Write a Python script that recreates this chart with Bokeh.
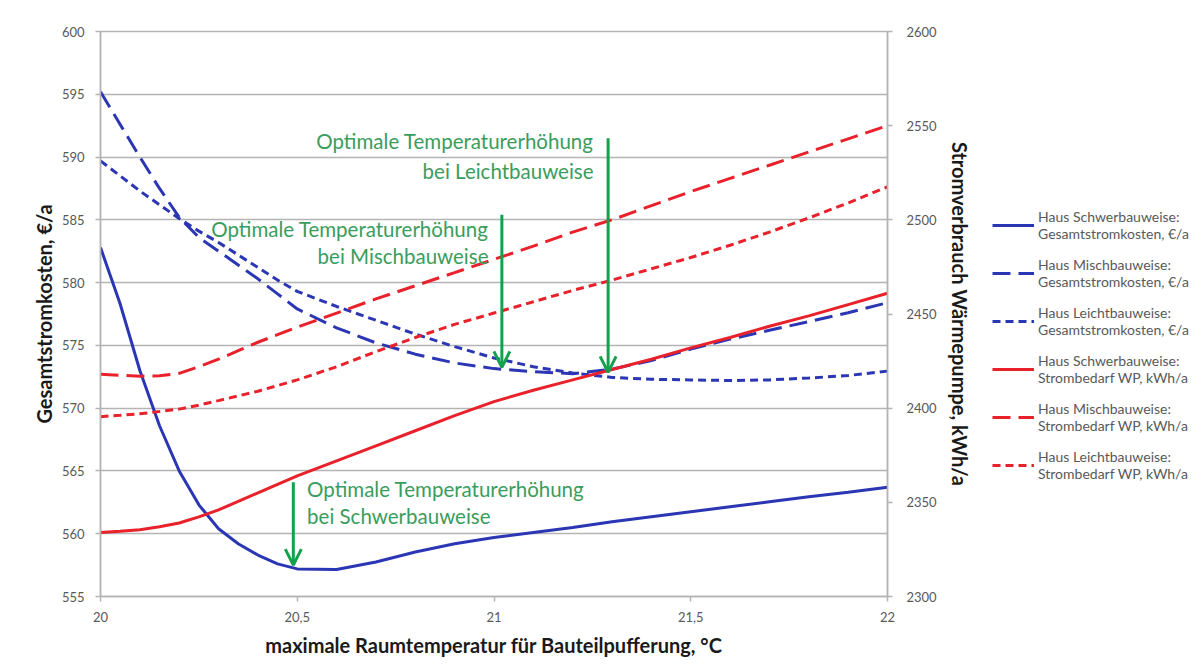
from bokeh.plotting import figure
from bokeh.layouts import row
from bokeh.models import (Range1d, LinearAxis, FixedTicker, Legend, LegendItem,
                          Arrow, OpenHead, Label)
from bokeh.embed import file_html
from bokeh.resources import INLINE

# ---------------- data ----------------
x_temp = [20.0, 20.05, 20.1, 20.15, 20.2, 20.25, 20.3, 20.35, 20.4, 20.45, 20.5,
          20.6, 20.7, 20.8, 20.9, 21.0, 21.1, 21.2, 21.3, 21.4, 21.5, 21.6, 21.7,
          21.8, 21.9, 22.0]

kosten_schwer = [582.8, 578.3, 573.0, 568.6, 565.0, 562.3, 560.4, 559.2, 558.3, 557.6, 557.2,
                 557.15, 557.75, 558.55, 559.2, 559.7,
                 560.1, 560.5, 560.95, 561.35, 561.75, 562.15, 562.55, 562.95, 563.3, 563.7]
kosten_misch = [595.2, 592.6, 590.0, 587.5, 585.2, 583.6, 582.5, 581.4, 580.3, 579.1, 577.9,
                576.4, 575.2, 574.3, 573.6, 573.15,
                572.9, 572.75, 573.1, 573.8, 574.7, 575.5, 576.2, 576.9, 577.6, 578.4]
kosten_leicht = [589.7, 588.5, 587.3, 586.2, 585.1, 584.1, 583.2, 582.2, 581.2, 580.2, 579.3,
                 578.1, 577.0, 575.9, 574.9, 574.0,
                 573.3, 572.8, 572.45, 572.3, 572.25, 572.2, 572.25, 572.4, 572.6, 572.95]

strom_schwer = [2334, 2334.6, 2335.5, 2337, 2339, 2342.3, 2346, 2350.5, 2355, 2359.5, 2364,
                2372, 2380, 2388, 2396, 2403.5,
                2409.5, 2415, 2420.5, 2426, 2432, 2437.5, 2443.5, 2449, 2455, 2461]
strom_misch = [2418, 2417.5, 2417, 2417.2, 2418.5, 2422, 2426, 2430.5, 2435, 2439, 2443,
               2450.5, 2458, 2465, 2472, 2479,
               2486, 2493.5, 2500, 2507.5, 2515, 2522, 2529, 2536, 2543, 2550]
strom_leicht = [2395.5, 2396.2, 2397, 2398.2, 2399.5, 2401.6, 2404, 2406.5, 2409, 2412, 2415,
                2422, 2430, 2437.5, 2444.5, 2450.5,
                2456.5, 2462.5, 2468, 2474, 2480, 2486.5, 2493.5, 2501, 2509, 2517.5]

x_ticks = [20, 20.5, 21, 21.5, 22]
x_tick_labels = ["20", "20,5", "21", "21,5", "22"]
left_ticks = [555, 560, 565, 570, 575, 580, 585, 590, 595, 600]
right_ticks = [2300, 2350, 2400, 2450, 2500, 2550, 2600]

# optimum markers (temperature, arrow start, arrow tip) in cost units
opt_temp = [20.49, 21.02, 21.29]
opt_top = [564.1, 585.4, 591.5]
opt_tip = [557.5, 573.25, 572.85]

legend_labels = [
    "Haus Schwerbauweise:\nGesamtstromkosten, €/a",
    "Haus Mischbauweise:\nGesamtstromkosten, €/a",
    "Haus Leichtbauweise:\nGesamtstromkosten, €/a",
    "Haus Schwerbauweise:\nStrombedarf WP, kWh/a",
    "Haus Mischbauweise:\nStrombedarf WP, kWh/a",
    "Haus Leichtbauweise:\nStrombedarf WP, kWh/a",
]

# ---------------- style ----------------
FONT = "Lato"
BLUE = "#2b36b4"
RED = "#e8212b"
GREEN = "#14a04c"
GREEN_TXT = "#3a9d5d"
GRID = "#b4b4b4"
TICK_TXT = "#595959"
series_styles = [(BLUE, None, None), (BLUE, "18 8", None), (BLUE, "8 5", None),
                 (RED, None, "strom"), (RED, "18 8", "strom"), (RED, "8 5", "strom")]
series = [kosten_schwer, kosten_misch, kosten_leicht, strom_schwer, strom_misch, strom_leicht]

p = figure(frame_width=787, frame_height=565, output_backend="svg", toolbar_location=None,
           x_range=Range1d(20, 22), y_range=Range1d(555, 600),
           min_border_left=100, min_border_right=90, min_border_top=31, min_border_bottom=75)
p.extra_y_ranges = {"strom": Range1d(2300, 2600)}
p.background_fill_color = "white"
p.border_fill_color = "white"
p.outline_line_color = GRID
p.outline_line_width = 1.5

p.xgrid.visible = False
p.ygrid.ticker = FixedTicker(ticks=left_ticks)
p.ygrid.grid_line_color = GRID
p.ygrid.grid_line_width = 1.5

# x axis
xa = p.xaxis[0]
xa.ticker = FixedTicker(ticks=x_ticks)
xa.major_label_overrides = {t: l for t, l in zip(x_ticks, x_tick_labels)}
xa.axis_label = "maximale Raumtemperatur für Bauteilpufferung, °C"

# left axis
ya = p.yaxis[0]
ya.ticker = FixedTicker(ticks=left_ticks)
ya.axis_label = "Gesamtstromkosten, €/a"

# right axis
ra = LinearAxis(y_range_name="strom", ticker=FixedTicker(ticks=right_ticks),
                axis_label="Stromverbrauch Wärmepumpe, kWh/a")
p.add_layout(ra, "right")

for ax in (xa, ya, ra):
    ax.axis_line_color = GRID
    ax.axis_line_width = 1.5
    ax.major_tick_line_color = GRID
    ax.major_tick_line_width = 1.5
    ax.major_tick_out = 5
    ax.major_tick_in = 0
    ax.minor_tick_line_color = None
    ax.major_label_text_font = FONT
    ax.major_label_text_font_size = "13px"
    ax.major_label_text_color = TICK_TXT
    ax.axis_label_text_font = FONT
    ax.axis_label_text_font_style = "bold"
    ax.axis_label_text_font_size = "20px"
    ax.axis_label_text_color = "#1a1a1a"

xa.major_label_standoff = 10
xa.axis_label_standoff = 8
ya.major_label_standoff = 11
ya.axis_label_standoff = 3
ra.major_label_standoff = 14
ra.axis_label_standoff = 8

# ---------------- lines ----------------
def line_kw(col, dash):
    kw = dict(line_color=col, line_width=3)
    if dash:
        kw["line_dash"] = dash
    return kw

for ys, (col, dash, rng) in zip(series, series_styles):
    kw = line_kw(col, dash)
    if rng:
        kw["y_range_name"] = rng
    p.line(x_temp, ys, **kw)

# ---------------- annotations ----------------
for ox, top, tip in zip(opt_temp, opt_top, opt_tip):
    p.add_layout(Arrow(end=OpenHead(size=16, line_color=GREEN, line_width=3),
                       x_start=ox, y_start=top, x_end=ox, y_end=tip,
                       line_color=GREEN, line_width=3))

def note(x, y, text, align):
    p.add_layout(Label(x=x, y=y, text=text, text_align=align, text_baseline="middle",
                       text_font=FONT, text_font_size="20.5px", text_color=GREEN_TXT))

note(20.525, 563.6, "Optimale Temperaturerhöhung", "left")
note(20.525, 561.4, "bei Schwerbauweise", "left")
note(20.986, 584.3, "Optimale Temperaturerhöhung", "right")
note(20.986, 582.15, "bei Mischbauweise", "right")
note(21.253, 591.25, "Optimale Temperaturerhöhung", "right")
note(21.253, 588.9, "bei Leichtbauweise", "right")

# ---------------- legend panel ----------------
lg = figure(width=227, height=671, output_backend="svg", toolbar_location=None,
            x_axis_type=None, y_axis_type=None, x_range=Range1d(0, 1), y_range=Range1d(0, 1),
            min_border_left=0, min_border_right=0, min_border_top=0, min_border_bottom=0)
lg.grid.visible = False
lg.outline_line_color = None
lg.background_fill_color = "white"
lg.border_fill_color = "white"

items = []
for lab, ys, (col, dash, rng) in zip(legend_labels, series, series_styles):
    # same series, outside this panel's view: only the legend swatch is visible
    r = lg.line(x_temp, ys, **line_kw(col, dash))
    items.append(LegendItem(label=lab, renderers=[r]))

legend = Legend(items=items, location=(15, 114), border_line_color=None,
                background_fill_alpha=0, label_text_font=FONT, label_text_font_size="14px",
                label_text_color=TICK_TXT, glyph_width=42, label_standoff=4,
                spacing=14, margin=0, padding=0)
lg.add_layout(legend, "center")

layout = row(p, lg)
open("out.html", "w").write(file_html(layout, INLINE))
